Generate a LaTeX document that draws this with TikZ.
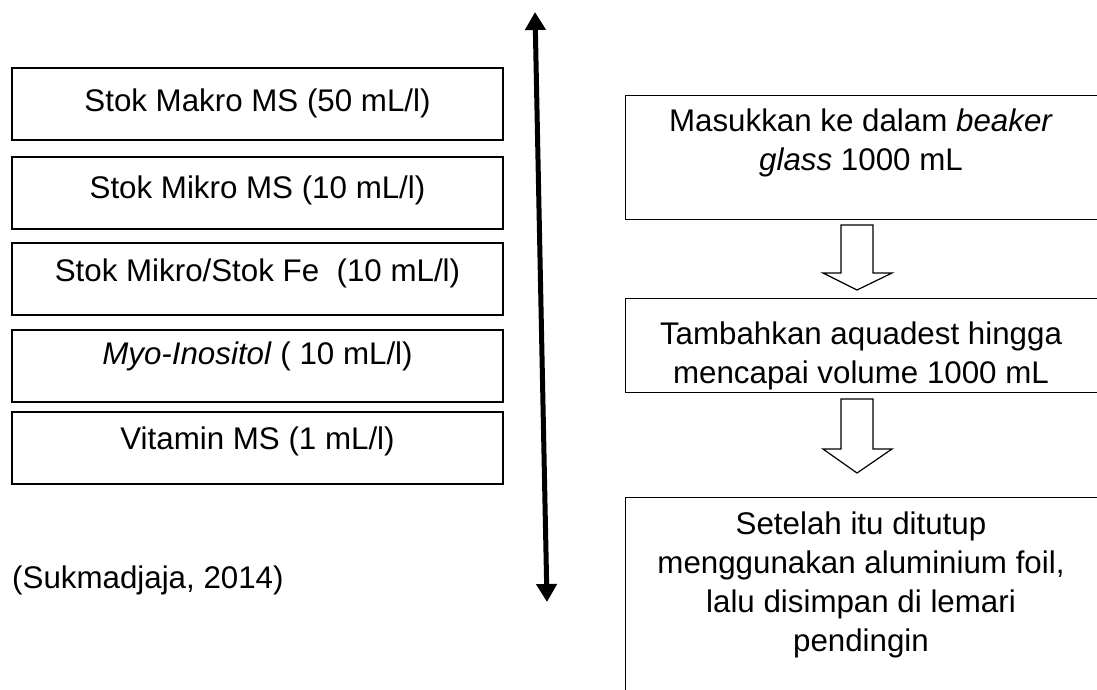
\documentclass[tikz,border=0pt]{standalone}
\usepackage{fontspec}
\setmainfont{Liberation Sans}
\usetikzlibrary{arrows.meta}
\begin{document}
\begin{tikzpicture}[x=1pt,y=-1pt,
  every node/.style={font=\fontsize{31.3}{39}\selectfont, inner sep=0pt},
  stockbox/.style={draw, line width=1.3pt, minimum width=491pt, minimum height=72pt},
  stepframe/.style={draw, line width=1.3pt, anchor=north west},
  steptext/.style={align=center},
  blockarrow/.style={draw, line width=1.2pt, line join=miter},
  scale arrow/.style={line width=5pt, {Triangle[width=20pt,length=18pt]}-{Triangle[width=20pt,length=18pt]}}]
\useasboundingbox (0,0) rectangle (1097,689);
\clip (0,0) rectangle (1097,689);

% stock solutions
\node[stockbox] (makro) at (257.5,104) {};
\node (makrotxt) at (257.5,103) {Stok Makro MS (50 mL/l)};
\node[stockbox] (mikro) at (257.5,193) {};
\node (mikrotxt) at (257.5,190) {Stok Mikro MS (10 mL/l)};
\node[stockbox] (fe) at (257.5,279) {};
\node (fetxt) at (257.5,273) {Stok Mikro/Stok Fe\ \ (10 mL/l)};
\node[stockbox] (myo) at (257.5,366) {};
\node (myotxt) at (257.5,356) {\textit{Myo-Inositol} ( 10 mL/l)};
\node[stockbox] (vit) at (257.5,448) {};
\node (vittxt) at (257.5,441) {Vitamin MS (1 mL/l)};
\node[anchor=west] (src) at (12,580) {(Sukmadjaja, 2014)};

% double-headed arrow
\coordinate (up) at (535,12);
\coordinate (down) at (547,602);
\draw[scale arrow] (down) -- (up);

% procedure steps
\node[stepframe, minimum width=500pt, minimum height=124pt] (boxA) at (625,95) {};
\node[steptext] (txtA) at (861,143) {Masukkan ke dalam \textit{beaker}\\\textit{glass} 1000 mL};
\node[stepframe, minimum width=500pt, minimum height=94pt] (boxB) at (625,298) {};
\node[steptext] (txtB) at (861,356) {Tambahkan aquadest hingga\\mencapai volume 1000 mL};
\node[stepframe, minimum width=500pt, minimum height=240pt] (boxC) at (625,497) {};
\node[steptext] (txtC) at (861,585) {Setelah itu ditutup\\menggunakan aluminium foil,\\lalu disimpan di lemari\\pendingin};

% outlined block arrows between steps
\coordinate (ab) at (857,225);
\coordinate (bc) at (857,399);
\draw[blockarrow] (ab) ++(-16,0) -- ++(0,48) -- ++(-18,0) -- ++(34,17) -- ++(35,-17) -- ++(-19,0) -- ++(0,-48) -- cycle;
\draw[blockarrow] (bc) ++(-16,0) -- ++(0,50) -- ++(-18,0) -- ++(34,24) -- ++(35,-24) -- ++(-19,0) -- ++(0,-50) -- cycle;
\end{tikzpicture}
\end{document}
